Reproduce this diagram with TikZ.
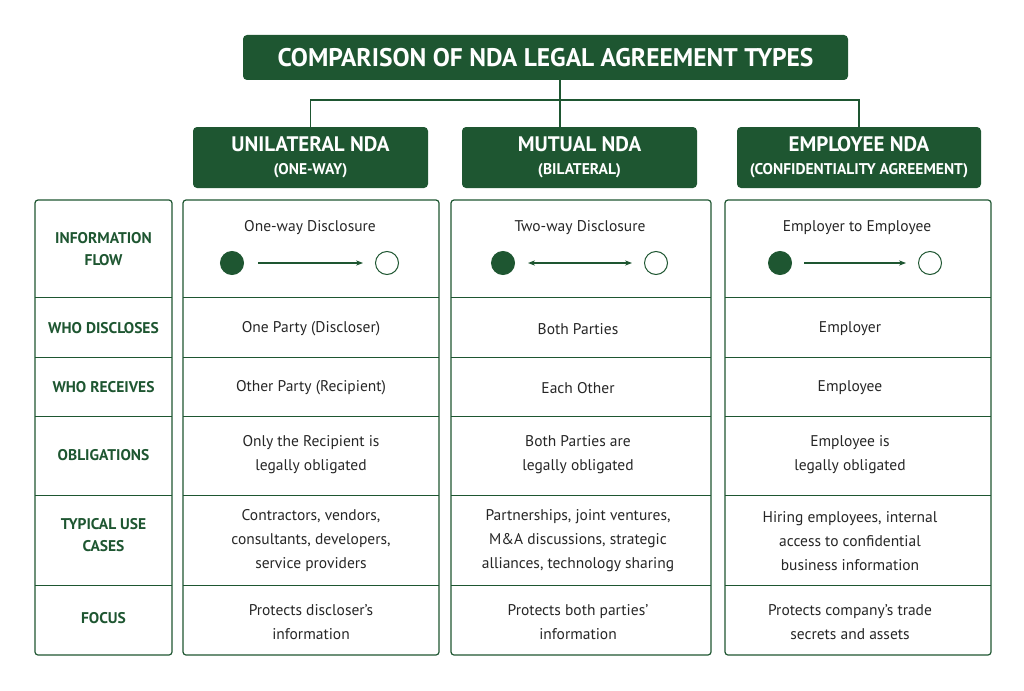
\documentclass[tikz,border=0pt]{standalone}
\usepackage{fontspec}
\setmainfont{PT Sans}
\usetikzlibrary{arrows.meta}
\definecolor{dg}{HTML}{1E5631}
\begin{document}
\begin{tikzpicture}[x=1pt,y=-1pt,
 hdr/.style={fill=dg,rounded corners=4pt,text=white,font=\bfseries,align=center},
 box/.style={draw=dg,line width=1.2pt,rounded corners=3pt},
 sep/.style={draw=dg,line width=0.8pt},
 lab/.style={text=dg,font=\bfseries\fontsize{15.5}{22}\selectfont,align=center},
 txt/.style={font=\fontsize{15.5}{24}\selectfont,align=center,text=black!85},
 dot/.style={circle,draw=dg,line width=1pt,minimum size=23pt,inner sep=0pt},
 arr/.style={draw=dg,line width=1.1pt,-{Stealth[length=7pt]}}]
\useasboundingbox (0,0) rectangle (1024,690);
\node[hdr,minimum width=605pt,minimum height=45pt,font=\bfseries\fontsize{25.5}{28}\selectfont] (title) at (545.5,57.5) {COMPARISON OF NDA LEGAL AGREEMENT TYPES};
\node[hdr,minimum width=235pt,minimum height=61pt,font=\bfseries\fontsize{21}{24}\selectfont] (h1) at (310.5,157.5) {UNILATERAL NDA\\[-1pt]{\fontsize{15.5}{18}\selectfont (ONE-WAY)}};
\node[hdr,minimum width=235pt,minimum height=61pt,font=\bfseries\fontsize{21}{24}\selectfont] (h2) at (579.5,157.5) {MUTUAL NDA\\[-1pt]{\fontsize{15.5}{18}\selectfont (BILATERAL)}};
\node[hdr,minimum width=244pt,minimum height=61pt,font=\bfseries\fontsize{21}{24}\selectfont] (h3) at (859,157.5) {EMPLOYEE NDA\\[-1pt]{\fontsize{15.5}{18}\selectfont (CONFIDENTIALITY AGREEMENT)}};
\coordinate (j) at (560,100);
\draw[dg,line width=1.5pt] (title.south -| j) -- (j) (h1.north) |- (j) -| (h3.north);
\draw[dg,line width=1.5pt] (j) -- (h2.north -| j);
% boxes
\draw[box] (35,200) rectangle (172,655);
\draw[box] (183,200) rectangle (439,655);
\draw[box] (451,200) rectangle (711,655);
\draw[box] (725,200) rectangle (991,655);
\foreach \y in {297,357,416,495,585}{
 \draw[sep] (35,\y)--(172,\y); \draw[sep] (183,\y)--(439,\y);
 \draw[sep] (451,\y)--(711,\y); \draw[sep] (725,\y)--(991,\y);}
% labels
\node[lab] (l1) at (103.5,249) {INFORMATION\\FLOW};
\node[lab] (l2) at (103.5,328) {WHO DISCLOSES};
\node[lab] (l3) at (103.5,387) {WHO RECEIVES};
\node[lab] (l4) at (103.5,455) {OBLIGATIONS};
\node[lab] (l5) at (103.5,535) {TYPICAL USE\\CASES};
\node[lab] (l6) at (103.5,618) {FOCUS};
% flow
\node[txt] (f1) at (310,228) {One-way Disclosure};
\node[txt] (f2) at (580,228) {Two-way Disclosure};
\node[txt] (f3) at (857,228) {Employer to Employee};
\node[dot,fill=dg] (a1) at (232,263) {}; \node[dot] (b1) at (387,263) {};
\node[dot,fill=dg] (a2) at (503,263) {}; \node[dot] (b2) at (656,263) {};
\node[dot,fill=dg] (a3) at (780,263) {}; \node[dot] (b3) at (930,263) {};
\draw[arr] ([xshift=14pt]a1.east) -- ([xshift=-12pt]b1.west);
\draw[arr,{Stealth[length=7pt]}-{Stealth[length=7pt]}] ([xshift=13pt]a2.east) -- ([xshift=-12pt]b2.west);
\draw[arr] ([xshift=12pt]a3.east) -- ([xshift=-12pt]b3.west);
% rows
\node[txt] (c21) at (311,329) {One Party (Discloser)};
\node[txt] (c22) at (578,329) {Both Parties};
\node[txt] (c23) at (850,329) {Employer};
\node[txt] (c31) at (311,388) {Other Party (Recipient)};
\node[txt] (c32) at (578,388) {Each Other};
\node[txt] (c33) at (850,388) {Employee};
\node[txt] (c41) at (311,455) {Only the Recipient is\\legally obligated};
\node[txt] (c42) at (578,455) {Both Parties are\\legally obligated};
\node[txt] (c43) at (850,455) {Employee is\\legally obligated};
\node[txt] (c51) at (311,541) {Contractors, vendors,\\consultants, developers,\\service providers};
\node[txt] (c52) at (578,541) {Partnerships, joint ventures,\\M\&A discussions, strategic\\alliances, technology sharing};
\node[txt] (c53) at (850,541) {Hiring employees, internal\\access to confidential\\business information};
\node[txt] (c61) at (311,622) {Protects discloser’s\\information};
\node[txt] (c62) at (578,622) {Protects both parties’\\information};
\node[txt] (c63) at (850,622) {Protects company’s trade\\secrets and assets};
\end{tikzpicture}
\end{document}
